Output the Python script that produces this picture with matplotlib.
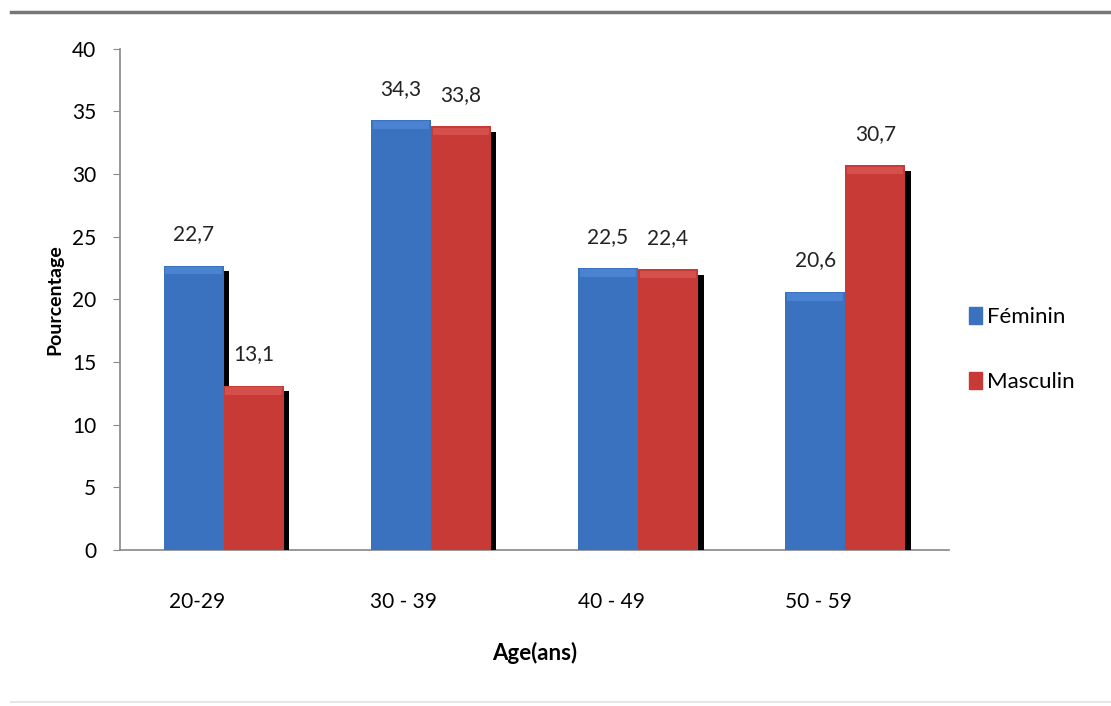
import matplotlib.pyplot as plt
import matplotlib.patheffects as pe
from matplotlib.patches import Patch
import numpy as np

# data
ages = ["20-29", "30 - 39", "40 - 49", "50 - 59"]
feminin = [22.7, 34.3, 22.5, 20.6]
masculin = [13.1, 33.8, 22.4, 30.7]

plt.rcParams['font.family'] = ['Lato', 'DejaVu Sans']

fig = plt.figure(figsize=(11.11, 7.06), dpi=100)
ax = fig.add_axes([0.108, 0.221, 0.746, 0.710])

blue = '#3a72c0'
red = '#c83a36'
x = np.arange(len(ages))
w = 0.29
shadow = [pe.SimplePatchShadow(offset=(4, -4), shadow_rgbFace='black', alpha=1.0), pe.Normal()]

b1 = ax.bar(x - w / 2, feminin, w, color=blue, zorder=3)
b2 = ax.bar(x + w / 2, masculin, w, color=red, zorder=3)
for b in list(b1) + list(b2):
    b.set_path_effects(shadow)
# redraw blue on top so its shadow hides behind the red bar
ax.bar(x - w / 2, feminin, w, color=blue, zorder=4)
# soft lighter bevel near bar tops
ax.bar(x - w / 2, [0.6] * len(x), w * 0.94, bottom=np.array(feminin) - 0.7, color='#4a83d2', zorder=5)
ax.bar(x + w / 2, [0.6] * len(x), w * 0.94, bottom=np.array(masculin) - 0.7, color='#d6504b', zorder=5)

for xi, v in zip(x - w / 2, feminin):
    ax.text(xi, v + 1.7, f"{v:.1f}".replace('.', ','), ha='center', va='bottom', fontsize=15, color='#222222')
for xi, v in zip(x + w / 2, masculin):
    ax.text(xi, v + 1.7, f"{v:.1f}".replace('.', ','), ha='center', va='bottom', fontsize=15, color='#222222')

ax.set_xlim(-0.5, len(ages) - 0.5)
ax.set_ylim(0, 40)
ax.set_yticks(range(0, 41, 5))
ax.set_xticks(x - 0.13)
ax.set_xticklabels(ages, fontsize=15)
ax.tick_params(axis='x', length=0, pad=30)
ax.tick_params(axis='y', length=5, direction='out', labelsize=15, pad=12, color='#888888')
for s in ['top', 'right']:
    ax.spines[s].set_visible(False)
for s in ['left', 'bottom']:
    ax.spines[s].set_color('#888888')
    ax.spines[s].set_linewidth(1.2)

ax.set_ylabel('Pourcentage', fontsize=14, fontweight='bold', labelpad=6)
ax.set_xlabel('Age(ans)', fontsize=16, fontweight='bold', labelpad=22)

handles = [Patch(color=blue, label='Féminin'), Patch(color=red, label='Masculin')]
ax.legend(handles=handles, loc='center left', bbox_to_anchor=(1.0, 0.40), frameon=False,
          fontsize=16, handlelength=0.6, handleheight=0.8, handletextpad=0.2, labelspacing=2.0)

# frame lines
fig.add_artist(plt.Line2D([0.01, 1.0], [0.983, 0.983], color='#777777', lw=2.5))
fig.add_artist(plt.Line2D([0.01, 1.0], [0.006, 0.006], color='#e6e6e6', lw=1.5))

fig.savefig('out.png', dpi=100)
